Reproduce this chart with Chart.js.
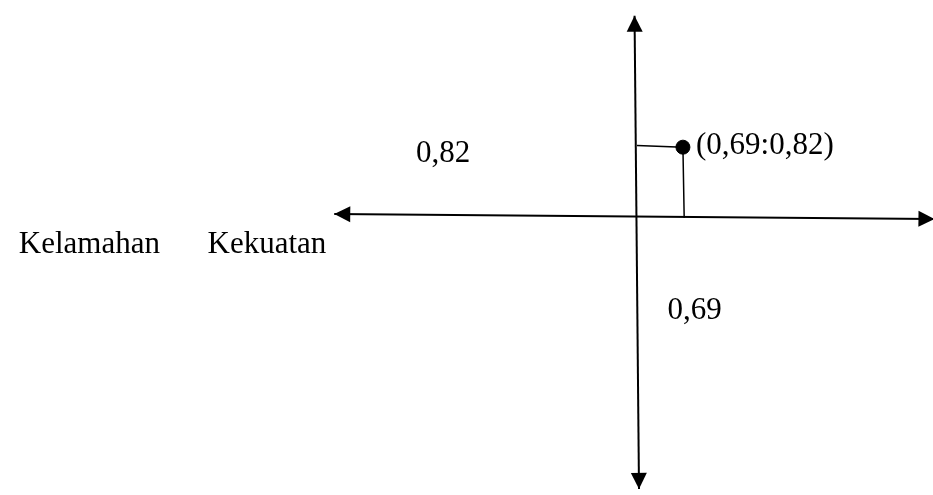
<!DOCTYPE html>
<html>
<head>
<meta charset="utf-8">
<script src="https://cdn.jsdelivr.net/npm/chart.js@4/dist/chart.umd.min.js"></script>
<style>
  html, body { margin: 0; padding: 0; background: #fff; overflow: hidden; }
  #wrap { width: 933px; height: 495px; }
</style>
</head>
<body>
<div id="wrap"><canvas id="c"></canvas></div>
<script>
// ── datos ─────────────────────────────────────────
// punto de la matriz (0,69 ; 0,82)
const pointX = 0.69;
const pointY = 0.82;

// ejes (dibujados a mano en el original, por eso la leve inclinación)
const axisH = [{x: -4.55, y: 0.034}, {x: 4.47, y: -0.023}];
const axisV = [{x: -0.037, y: 2.364}, {x: 0.03, y: -3.193}];

// líneas guía desde el punto hasta los ejes
const guide = [{x: 0, y: 0.839}, {x: pointX, y: pointY}, {x: 0.709, y: -0.011}];

// textos
const labelTexts = ['0,82', '(0,69:0,82)', 'Kelamahan', 'Kekuatan', '0,69'];

// ── layout (posición de cada texto, en unidades de los ejes) ──
const labelPos = [
  {x: -3.32,  y: 0.739},
  {x: 0.886,  y: 0.841},
  {x: -9.29,  y: -0.324},
  {x: -6.455, y: -0.324},
  {x: 0.46,   y: -1.097},
];

const INK = '#000';

const arrowPlugin = {
  id: 'arrows',
  afterDatasetsDraw(chart) {
    const ctx = chart.ctx;
    chart.data.datasets.forEach((ds, i) => {
      if (!ds.arrows) return;
      const pts = chart.getDatasetMeta(i).data;
      const ends = [[pts[1], pts[0]], [pts[pts.length - 2], pts[pts.length - 1]]];
      ends.forEach(([from, tip]) => {
        const a = Math.atan2(tip.y - from.y, tip.x - from.x);
        const len = 16, half = 8;
        const bx = tip.x - len * Math.cos(a), by = tip.y - len * Math.sin(a);
        ctx.save();
        ctx.fillStyle = INK;
        ctx.beginPath();
        ctx.moveTo(tip.x, tip.y);
        ctx.lineTo(bx + half * Math.sin(a), by - half * Math.cos(a));
        ctx.lineTo(bx - half * Math.sin(a), by + half * Math.cos(a));
        ctx.closePath();
        ctx.fill();
        ctx.restore();
      });
    });
  },
};

const textPlugin = {
  id: 'texts',
  afterDraw(chart) {
    const ctx = chart.ctx;
    const sx = chart.scales.x, sy = chart.scales.y;
    ctx.save();
    ctx.fillStyle = INK;
    ctx.font = "31px 'Liberation Serif', 'Times New Roman', serif";
    ctx.textAlign = 'left';
    ctx.textBaseline = 'middle';
    labelTexts.forEach((t, i) => {
      ctx.fillText(t, sx.getPixelForValue(labelPos[i].x), sy.getPixelForValue(labelPos[i].y));
    });
    ctx.restore();
  },
};

new Chart(document.getElementById('c'), {
  type: 'scatter',
  data: {
    datasets: [
      {data: axisH, showLine: true, borderColor: INK, borderWidth: 2, pointRadius: 0, arrows: true, clip: false},
      {data: axisV, showLine: true, borderColor: INK, borderWidth: 2, pointRadius: 0, arrows: true, clip: false},
      {data: guide, showLine: true, borderColor: INK, borderWidth: 1.5, pointRadius: 0},
      {data: [{x: pointX, y: pointY}], pointRadius: 7, pointBackgroundColor: INK, pointBorderColor: INK},
    ],
  },
  options: {
    responsive: true,
    maintainAspectRatio: false,
    animation: false,
    layout: {padding: 0},
    plugins: {legend: {display: false}, tooltip: {enabled: false}},
    scales: {
      x: {type: 'linear', display: false, min: -9.453, max: 4.328},
      y: {type: 'linear', display: false, min: -3.1705, max: 2.4545},
    },
  },
  plugins: [arrowPlugin, textPlugin],
});
</script>
</body>
</html>
